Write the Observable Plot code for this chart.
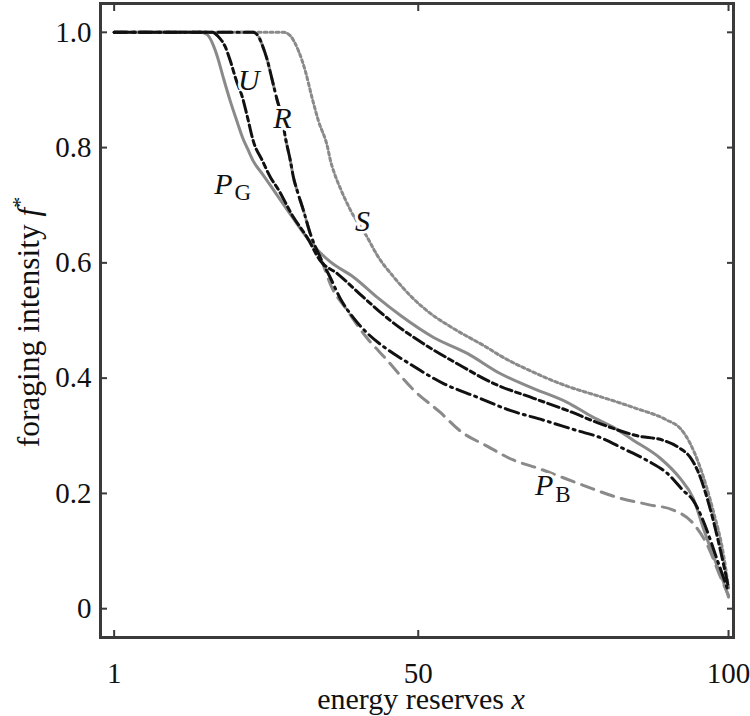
<!DOCTYPE html>
<html><head><meta charset="utf-8">
<script src="https://cdn.jsdelivr.net/npm/d3@7"></script>
<script src="https://cdn.jsdelivr.net/npm/@observablehq/plot@0.6"></script>
<style>body{margin:0;background:#fff} svg{display:block}</style>
</head><body><div id="chart"></div>
<script>
// ---- data ----
const xTicks = [1, 50, 100];
const yTicks = [0, 0.2, 0.4, 0.6, 0.8, 1.0];

const sX = [1, 28.3, 29.4, 30.1, 30.7, 31.8, 32.9, 33.9, 35.4, 35.8, 36.6, 37.5, 39.1, 41.8, 43.4, 46.0, 49.2, 52.0, 55.7, 61.1, 63.2, 68.6, 74.0, 79.3, 84.7, 90.1, 92.2, 93.8, 95.4, 97.5, 99.2, 100];
const sY = [1, 1, 0.994, 0.982, 0.968, 0.933, 0.886, 0.847, 0.800, 0.780, 0.752, 0.728, 0.691, 0.644, 0.613, 0.576, 0.538, 0.512, 0.486, 0.453, 0.439, 0.410, 0.386, 0.368, 0.349, 0.327, 0.313, 0.287, 0.246, 0.171, 0.093, 0.036];

const pbX = [1, 23.4, 24.3, 24.9, 25.7, 26.5, 27.3, 28.0, 28.6, 29.4, 29.9, 30.5, 31.5, 32.9, 34.6, 35.8, 38.6, 41.2, 45.0, 49.2, 53.6, 56.8, 61.1, 65.3, 69.2, 76.6, 82.1, 86.9, 91.1, 94.3, 96.6, 98.7, 100];
const pbY = [1, 1, 0.992, 0.977, 0.951, 0.916, 0.881, 0.855, 0.817, 0.777, 0.748, 0.725, 0.691, 0.639, 0.599, 0.564, 0.517, 0.477, 0.431, 0.380, 0.340, 0.308, 0.282, 0.258, 0.244, 0.214, 0.193, 0.181, 0.171, 0.148, 0.110, 0.055, 0.023];

const pgX = [1, 14.9, 16.0, 17.0, 17.6, 18.6, 19.7, 20.9, 21.7, 22.5, 23.4, 24.9, 26.2, 28.9, 31.5, 33.1, 35.8, 39.6, 43.4, 47.1, 52.4, 57.9, 63.2, 68.6, 74.0, 78.2, 81.4, 84.7, 89.0, 92.2, 94.3, 95.9, 97.5, 99.8, 100];
const pgY = [1, 1, 0.996, 0.977, 0.959, 0.921, 0.881, 0.842, 0.817, 0.798, 0.777, 0.754, 0.734, 0.692, 0.652, 0.630, 0.602, 0.575, 0.540, 0.509, 0.471, 0.443, 0.408, 0.382, 0.358, 0.332, 0.315, 0.292, 0.261, 0.226, 0.192, 0.141, 0.093, 0.027, 0.02];

const rX = [1, 23.4, 24.3, 24.9, 25.7, 26.5, 27.3, 28.0, 28.6, 29.4, 29.9, 30.5, 31.5, 32.6, 34.2, 35.8, 37.5, 39.6, 41.8, 45.0, 48.3, 54.0, 59.5, 64.8, 70.2, 75.6, 79.3, 83.0, 86.9, 90.1, 92.7, 94.3, 95.9, 98.2, 100];
const rY = [1, 1, 0.992, 0.977, 0.951, 0.916, 0.881, 0.855, 0.817, 0.777, 0.748, 0.725, 0.691, 0.651, 0.610, 0.575, 0.537, 0.504, 0.478, 0.450, 0.427, 0.391, 0.367, 0.344, 0.327, 0.309, 0.297, 0.278, 0.257, 0.235, 0.205, 0.188, 0.153, 0.084, 0.029];

const uX = [1, 16.8, 18.0, 18.9, 19.7, 20.7, 21.7, 22.5, 23.4, 24.9, 26.2, 27.3, 29.9, 32.1, 34.2, 37.0, 41.2, 45.5, 50.8, 56.3, 62.1, 68.6, 74.0, 79.3, 85.3, 89.5, 92.2, 93.8, 95.0, 97.1, 98.7, 100];
const uY = [1, 1, 0.990, 0.975, 0.951, 0.916, 0.886, 0.852, 0.812, 0.777, 0.748, 0.730, 0.679, 0.644, 0.604, 0.581, 0.540, 0.500, 0.460, 0.425, 0.391, 0.365, 0.344, 0.321, 0.300, 0.292, 0.278, 0.263, 0.240, 0.171, 0.101, 0.036];

const labelText = ["U", "R", "S", "P", "P"];
const labelSub  = ["", "", "", "G", "B"];
const labelX    = [22.7, 28.1, 41.0, 18.6, 70.3];
const labelY    = [0.916, 0.850, 0.672, 0.737, 0.214];

// ---- build tables ----
const toRows = (xs, ys) => xs.map((x, i) => ({x, y: ys[i]}));
const labels = labelText.map((t, i) => ({t, sub: labelSub[i], x: labelX[i], y: labelY[i]}));

const FONT = "Liberation Serif, Times New Roman, serif";
const GRAY = "#8a8a8a";
const BLACK = "#111";
const AX = "#3a3a3a";

const chart = Plot.plot({
  width: 750, height: 716,
  marginLeft: 100, marginRight: 17, marginTop: 3, marginBottom: 79,
  style: {fontFamily: FONT, background: "#fff", color: "#111"},
  x: {domain: [-1.2, 100.8]},
  y: {domain: [-0.05, 1.05]},
  marks: [
    Plot.line(toRows(sX, sY),   {x: "x", y: "y", stroke: GRAY,  strokeWidth: 3, strokeDasharray: "3,3", curve: "monotone-x"}),
    Plot.line(toRows(pbX, pbY), {x: "x", y: "y", stroke: GRAY,  strokeWidth: 3, strokeDasharray: "13,8", curve: "monotone-x"}),
    Plot.line(toRows(pgX, pgY), {x: "x", y: "y", stroke: GRAY,  strokeWidth: 3, curve: "monotone-x"}),
    Plot.line(toRows(rX, rY),   {x: "x", y: "y", stroke: BLACK, strokeWidth: 3, strokeDasharray: "14,5,2,5", curve: "monotone-x"}),
    Plot.line(toRows(uX, uY),   {x: "x", y: "y", stroke: BLACK, strokeWidth: 3, strokeDasharray: "12,4,5,4", curve: "monotone-x"}),
    Plot.text(labels, {x: "x", y: "y", text: "t", fontSize: 30, fontStyle: "italic", fill: "#111",
      stroke: "white", strokeWidth: 6, paintOrder: "stroke"}),
    Plot.text(labels.filter(d => d.sub), {x: "x", y: "y", text: "sub", fontSize: 23, fill: "#111",
      textAnchor: "start", dx: 11, dy: 9, stroke: "white", strokeWidth: 5, paintOrder: "stroke"}),
    // tick labels
    Plot.axisX({ticks: xTicks, tickSize: 0, tickPadding: 25, fontSize: 29, label: null, fill: "#111"}),
    Plot.axisY({ticks: yTicks, tickSize: 0, tickPadding: 9, fontSize: 29, label: null, fill: "#111",
      tickFormat: d => d === 0 ? "0" : d.toFixed(1)}),
    // inward ticks on all four sides
    Plot.axisX({anchor: "bottom", ticks: xTicks, tickSize: -7, tickFormat: () => "", label: null, stroke: AX, strokeWidth: 2}),
    Plot.axisX({anchor: "top", ticks: xTicks, tickSize: -7, tickFormat: () => "", label: null, stroke: AX, strokeWidth: 2}),
    Plot.axisY({anchor: "left", ticks: yTicks, tickSize: -7, tickFormat: () => "", label: null, stroke: AX, strokeWidth: 2}),
    Plot.axisY({anchor: "right", ticks: yTicks, tickSize: -7, tickFormat: () => "", label: null, stroke: AX, strokeWidth: 2}),
    Plot.frame({stroke: AX, strokeWidth: 3})
  ]
});

const svg = d3.select(chart);
// x-axis title
const xl = svg.append("text")
  .attr("x", 421).attr("y", 709)
  .attr("text-anchor", "middle")
  .attr("font-family", FONT).attr("font-size", 30).attr("fill", "#111");
xl.append("tspan").text("energy reserves ");
xl.append("tspan").attr("font-style", "italic").text("x");
// y-axis title
const yl = svg.append("text")
  .attr("transform", "translate(39,322) rotate(-90)")
  .attr("text-anchor", "middle")
  .attr("font-family", FONT).attr("font-size", 31.5).attr("fill", "#111");
yl.append("tspan").text("foraging intensity ");
yl.append("tspan").attr("font-style", "italic").text("f");
yl.append("tspan").attr("dy", -12).attr("font-size", 22).text("*");

document.getElementById("chart").appendChild(chart);
</script>
</body></html>
